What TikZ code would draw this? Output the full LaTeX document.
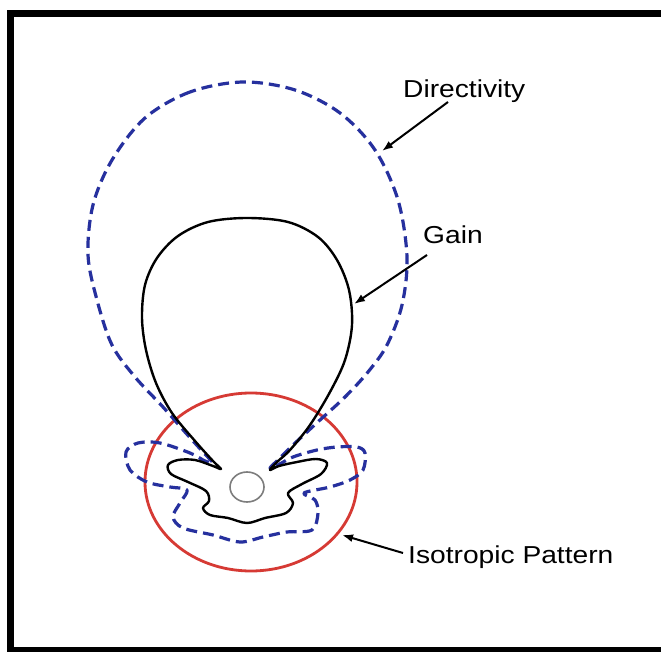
\documentclass[tikz,border=0pt]{standalone}
\usepackage{fontspec}
\setmainfont{Liberation Sans}
\usetikzlibrary{arrows.meta,shapes.geometric}
\definecolor{dirblue}{RGB}{38,48,158}
\definecolor{isored}{RGB}{214,58,52}
\definecolor{centgray}{RGB}{125,125,125}
\tikzset{
  gainline/.style={draw=black, line width=2.4pt, line join=round},
  dirline/.style={draw=dirblue, line width=3.2pt, dash pattern=on 11pt off 6pt, line join=round},
  isoline/.style={draw=isored, line width=2.8pt},
  pointer/.style={draw=black, line width=2pt, -{Latex[length=11pt,width=8pt]}},
  lbl/.style={inner sep=0pt, anchor=base west, font=\fontsize{24.5}{28}\selectfont, xscale=1.15, transform shape},
  framebar/.style={fill=black, draw=none}
}
\begin{document}
\begin{tikzpicture}[x=1pt,y=-1pt]
\useasboundingbox (0,0) rectangle (661,652);
\fill[white] (0,0) rectangle (661,652);
% frame
\fill[framebar] (7,10) rectangle (14,652);
\fill[framebar] (7,10) rectangle (661,17);
\fill[framebar] (7,647) rectangle (661,652);
% isotropic pattern
\draw[isoline] (251,482) ellipse [x radius=106, y radius=89];
% center element
\node (center) [draw=centgray, line width=1.6pt, ellipse, minimum width=34pt, minimum height=30pt, inner sep=0pt] at (247,487) {};
% directivity
\draw[dirline] plot[smooth cycle, tension=0.55] coordinates {
(243,82) (190,92) (145,118) (112,160) (93,205) (88,255) (97,300) (112,345) (135,377) (163,407) (185,432) (203,452) (213,463) (205,461) (190,453) (160,443) (138,443) (126,452) (130,470) (147,482) (170,487) (187,490) (180,503) (173,517) (183,528) (213,535) (240,542) (263,537) (287,532) (312,530) (318,513) (315,500) (304,493) (330,487) (350,480) (363,470) (365,453) (357,447) (337,447) (317,450) (293,457) (278,465) (270,468) (280,458) (293,445) (320,420) (345,397) (368,372) (387,345) (402,305) (407,257) (398,200) (375,150) (340,113) (295,90)};
% gain
\draw[gainline] plot[smooth cycle, tension=0.55] coordinates {
(247,218) (208,222) (178,236) (157,258) (145,285) (142,318) (146,350) (156,383) (172,413) (195,441) (213,461) (221,469) (213,466) (195,460) (178,460) (168,465) (171,474) (188,482) (206,491) (209,501) (203,508) (210,515) (228,518) (247,523) (265,518) (286,513) (293,503) (288,493) (302,484) (321,474) (327,463) (316,459) (297,462) (279,466) (270,470) (277,462) (290,450) (310,425) (330,392) (345,360) (352,325) (349,290) (337,260) (318,237) (288,222)};
% labels
\node[lbl] (dir) at (403,98) {Directivity};
\node[lbl] (gain) at (423,244) {Gain};
\node[lbl] (iso) at (408,563) {Isotropic Pattern};
% arrow ends
\coordinate (dirA) at (448,102);
\coordinate (dirB) at (382,151);
\coordinate (gainA) at (427,255);
\coordinate (gainB) at (354,304);
\coordinate (isoA) at (403,553);
\coordinate (isoB) at (342,535);
\draw[pointer] (dirA) -- (dirB);
\draw[pointer] (gainA) -- (gainB);
\draw[pointer] (isoA) -- (isoB);
\end{tikzpicture}
\end{document}
